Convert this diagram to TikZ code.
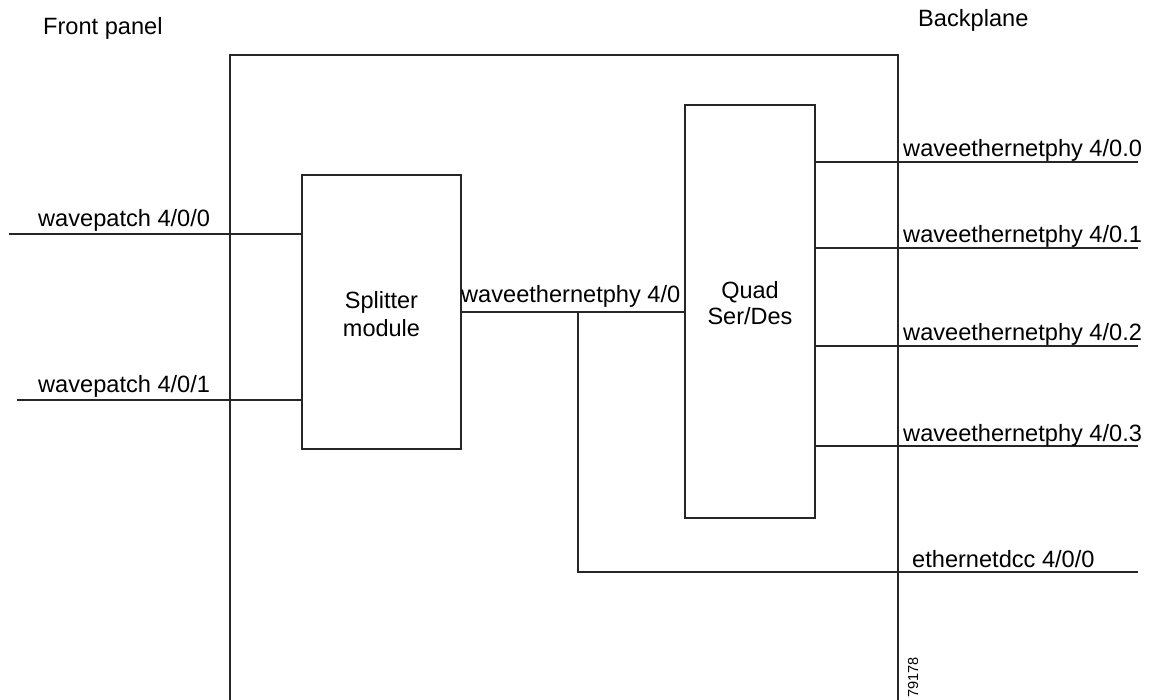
\documentclass[tikz,border=0pt]{standalone}
\usepackage{fontspec}
\setmainfont{Liberation Sans}
\begin{document}
\begin{tikzpicture}[x=1pt,y=-1pt,
  line/.style={line width=1.2pt,draw=black!85},
  lbl/.style={anchor=base west,inner sep=0pt,font=\fontsize{23.6}{26}\selectfont},
  blockbox/.style={line,draw,rectangle,inner sep=0pt,align=center,font=\fontsize{23.5}{26}\selectfont}]
\useasboundingbox (0,0) rectangle (1161,700);
% outer panel
\coordinate (pbl) at (230,700);
\coordinate (ptl) at (230,55);
\coordinate (ptr) at (898,55);
\coordinate (pbr) at (898,700);
\draw[line] (pbl) -- (ptl) -- (ptr) -- (pbr);
% blocks
\node[blockbox,minimum width=159pt,minimum height=274pt] (split) at (381.5,312) {};
\node[inner sep=0pt,align=center,font=\fontsize{23.5}{28}\selectfont] (splittxt) at (381.5,314) {Splitter\\module};
\node[blockbox,minimum width=130pt,minimum height=413pt] (quad) at (750,311.5) {};
\node[inner sep=0pt,align=center,font=\fontsize{23.5}{26}\selectfont] (quadtxt) at (750,303) {Quad\\Ser/Des};
% front inputs
\coordinate (wp0) at (9,234);
\coordinate (wp1) at (17,400);
\draw[line] (wp0) -- (wp0 -| split.west);
\draw[line] (wp1) -- (wp1 -| split.west);
\node[lbl] (wp0l) at (38,227) {wavepatch 4/0/0};
\node[lbl] (wp1l) at (38,392) {wavepatch 4/0/1};
% splitter to quad
\draw[line] (split.east) -- (split.east -| quad.west);
\node[lbl] (wel) at (461,303) {waveethernetphy 4/0};
% ethernet dcc branch
\coordinate (j) at (578,312);
\coordinate (edcc) at (1138,572);
\draw[line] (j) |- (edcc);
\node[lbl] (edccl) at (912,567) {ethernetdcc 4/0/0};
% outputs
\foreach \i/\yy in {0/162,1/248,2/346,3/446}{
  \coordinate (o\i) at (1138,\yy);
  \draw[line] (quad.east |- o\i) -- (o\i);
  \node[lbl] (o\i l) at (903,\yy-5) {waveethernetphy 4/0.\i};
}
% headings
\node[lbl] (fp) at (43,35) {Front panel};
\node[lbl] (bp) at (918,27) {Backplane};
\node[rotate=90,anchor=base east,inner sep=0pt,font=\fontsize{14.5}{16}\selectfont] (fig) at (918,657) {79178};
\end{tikzpicture}
\end{document}
